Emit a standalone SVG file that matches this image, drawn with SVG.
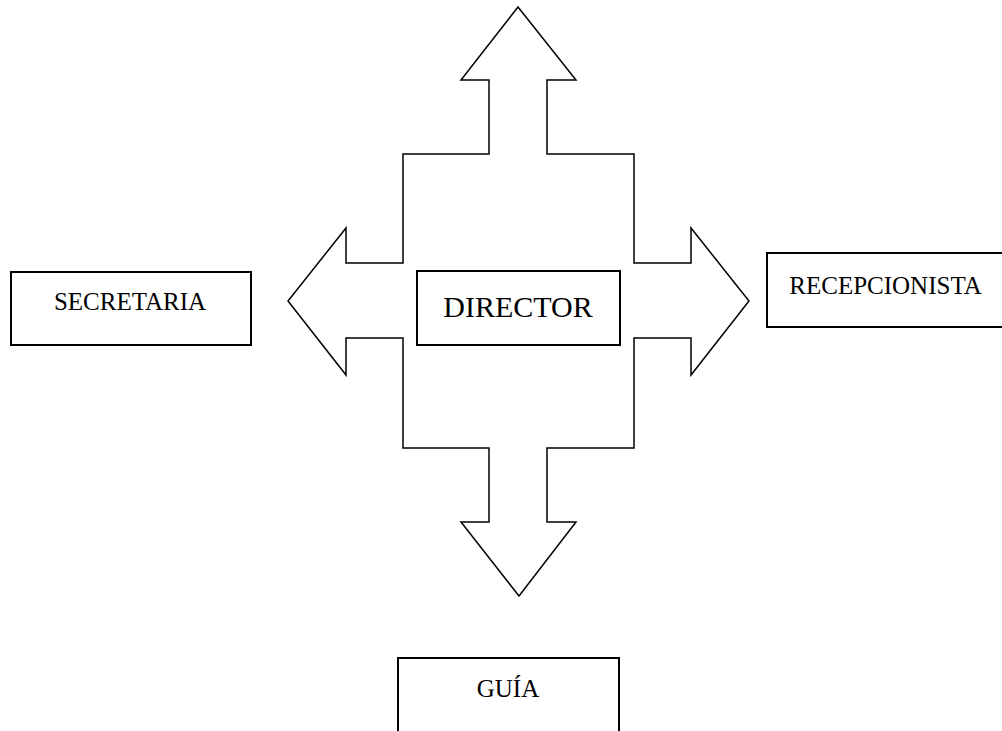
<svg xmlns="http://www.w3.org/2000/svg" width="1002" height="731" viewBox="0 0 1002 731">
  <style>
    .box { fill: #ffffff; stroke: #000000; stroke-width: 2; }
    .label { font-family: "Liberation Serif", "Times New Roman", serif; font-size: 25px; fill: #000000; text-anchor: middle; }
    .big { font-size: 30px; }
    .cross { fill: #ffffff; stroke: #000000; stroke-width: 1.5; stroke-linejoin: miter; }
  </style>
  <rect width="1002" height="731" fill="#ffffff"/>

  <!-- four-way block arrow around the director -->
  <g id="connectors">
    <path class="cross" d="M518,7 L576,80 L547,80 L547,154 L634,154 L634,263 L691,263 L691,228 L749,301 L691,375 L691,338 L634,338 L634,448 L547,448 L547,522 L576,522 L519,596 L461,522 L489,522 L489,448 L403,448 L403,338 L346,338 L346,375 L288,301 L346,228 L346,263 L403,263 L403,154 L489,154 L489,80 L461,80 Z"/>
  </g>

  <g id="director">
    <rect class="box" x="417" y="271" width="203" height="74"/>
    <text class="label big" x="518" y="317">DIRECTOR</text>
  </g>

  <g id="secretaria">
    <rect class="box" x="11" y="272" width="240" height="73"/>
    <text class="label" x="130" y="310">SECRETARIA</text>
  </g>

  <g id="recepcionista">
    <rect class="box" x="767" y="253" width="250" height="74"/>
    <text class="label" x="885.5" y="294">RECEPCIONISTA</text>
  </g>

  <g id="guia">
    <rect class="box" x="398" y="658" width="221" height="90"/>
    <text class="label" x="508" y="697">GUÍA</text>
  </g>
</svg>
